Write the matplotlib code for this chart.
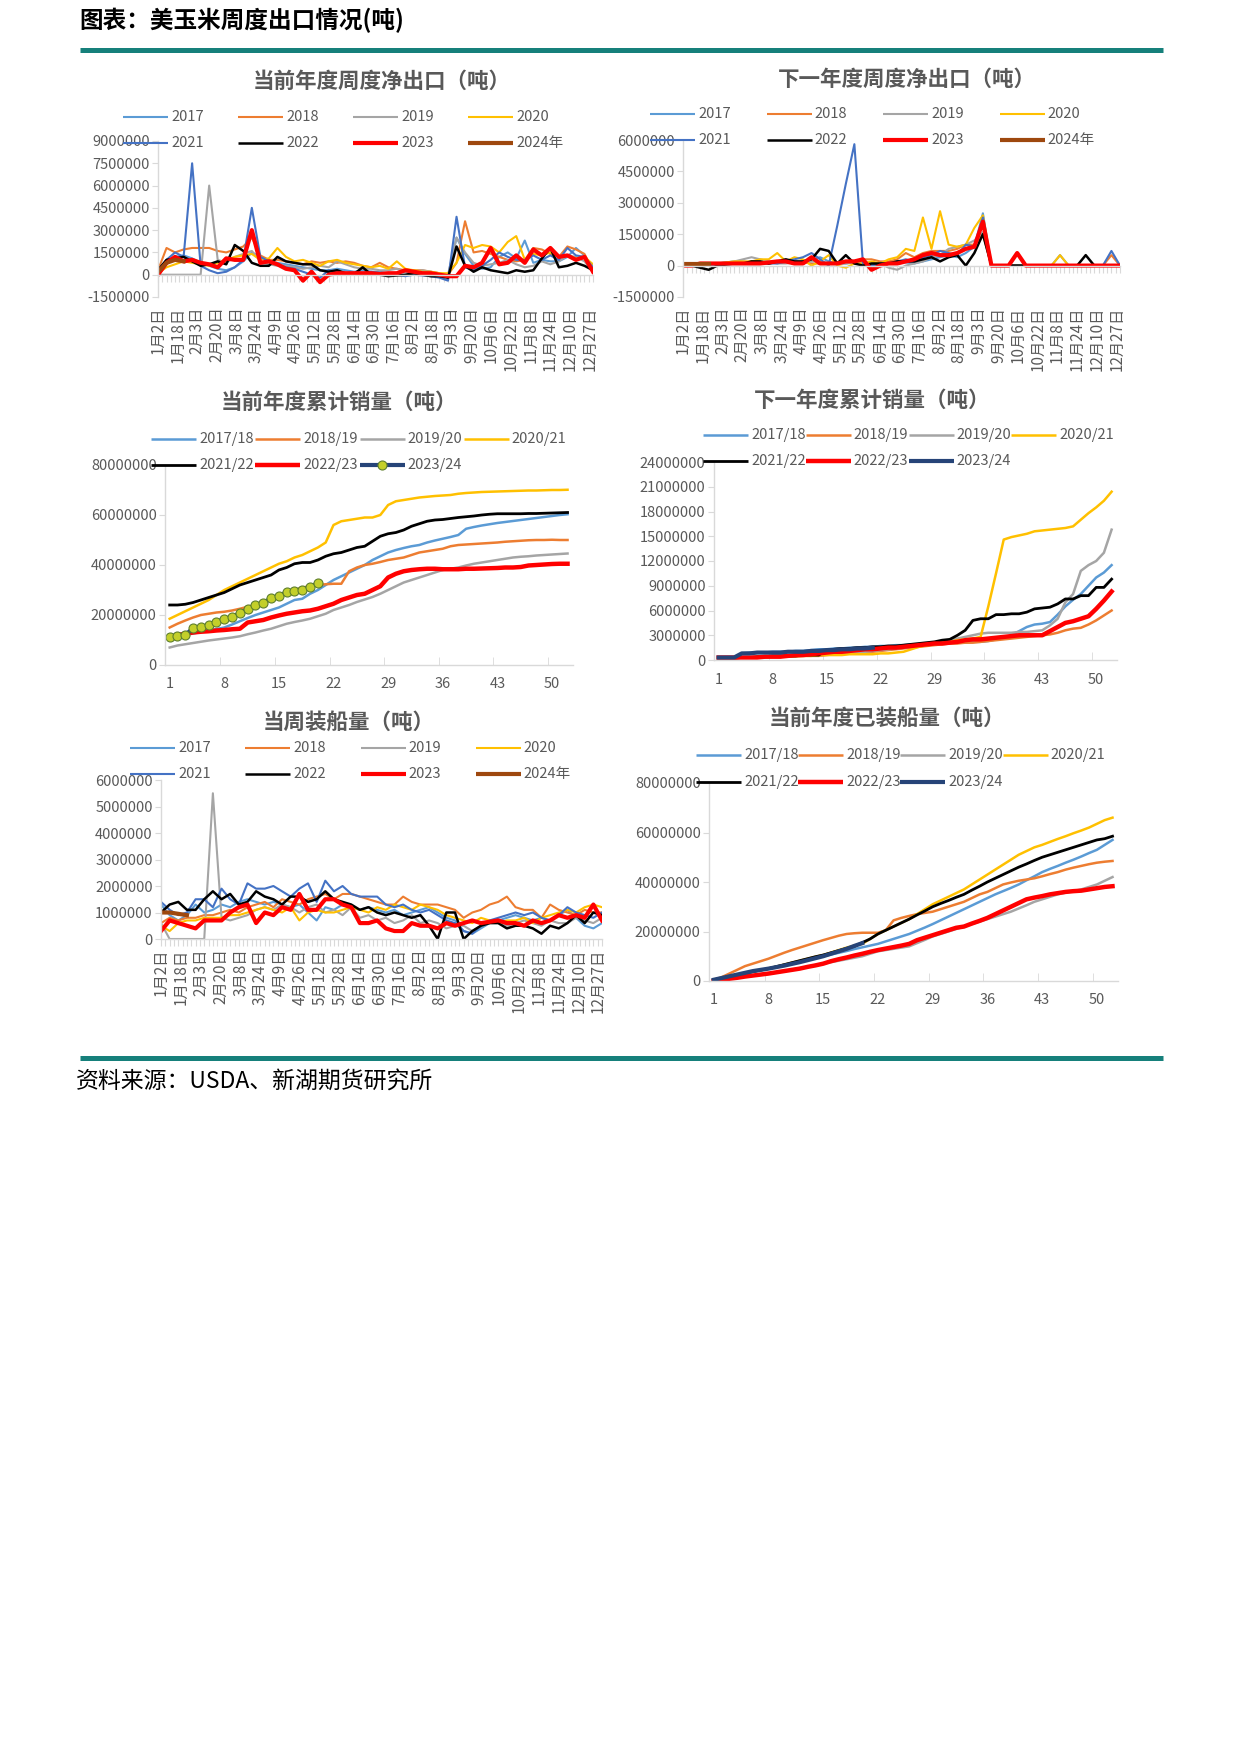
import numpy as np
import matplotlib
matplotlib.use("Agg")
import matplotlib.pyplot as plt
from matplotlib.lines import Line2D

plt.rcParams['font.family'] = ['Noto Sans CJK SC', 'DejaVu Sans']

W, H = 1240, 1754          # output size in pixels (dpi 100)
TEAL = '#16807B'
TXT = '#595959'
AXC = '#D9D9D9'

# ---------------------------------------------------------------- data
# weekly series in thousand tonnes, one value per week from 1月2日
YEARS = ['2017', '2018', '2019', '2020', '2021', '2022', '2023', '2024年']
SEASONS = ['2017/18', '2018/19', '2019/20', '2020/21', '2021/22', '2022/23', '2023/24']

DATE_LABELS = ['1月2日', '1月18日', '2月3日', '2月20日', '3月8日', '3月24日', '4月9日',
               '4月26日', '5月12日', '5月28日', '6月14日', '6月30日', '7月16日', '8月2日',
               '8月18日', '9月3日', '9月20日', '10月6日', '10月22日', '11月8日', '11月24日',
               '12月10日', '12月27日']
WEEK_LABELS = [1, 8, 15, 22, 29, 36, 43, 50]

# 当前年度周度净出口
NET_CUR = {
    '2017': [200, 900, 1200, 1300, 1100, 800, 600, 400, 300, 500, 900, 1500, 1200,
             900, 800, 700, 600, 500, 400, 300, 300, 400, 300, 200, 300, 200,
             200, 100, 100, 200, 100, 100, 50, 0, -200, 2500, 1400, 600, 400,
             500, 1200, 1500, 1100, 2300, 800, 1000, 900, 900, 1200, 1800, 1300, 300],
    '2018': [300, 1800, 1500, 1700, 1800, 1800, 1800, 1600, 1500, 1700, 1900, 2500, 1300,
             1000, 1000, 900, 800, 700, 900, 800, 900, 800, 900, 800, 600, 500,
             800, 500, 400, 300, 300, 300, 200, 100, 0, 800, 3600, 1500, 1600,
             1400, 1200, 1000, 900, 1000, 1800, 1700, 1400, 1200, 1900, 1700, 1400, 300],
    '2019': [0, 0, 0, 0, 0, 0, 6000, 1000, 800, 1200, 1400, 1600, 900,
             700, 600, 600, 500, 400, 500, 600, 500, 900, 700, 500, 400, 400,
             300, 300, 400, 200, 200, 300, 200, 100, 0, 2500, 1500, 800, 600,
             700, 800, 1000, 700, 500, 600, 900, 700, 900, 1300, 1200, 900, 200],
    '2020': [100, 500, 700, 900, 800, 700, 600, 800, 1000, 1200, 1300, 1400, 1000,
             1100, 1800, 1200, 900, 1000, 800, 600, 900, 1000, 800, 700, 600, 500,
             600, 400, 900, 400, 300, 200, 200, 100, 100, 800, 2000, 1800, 2000,
             1900, 1500, 2200, 2600, 1000, 1400, 1300, 1500, 1200, 1300, 1100, 1200, 700],
    '2021': [300, 1000, 1500, 1200, 7500, 600, 300, 100, 200, 500, 1000, 4500, 1200,
             900, 700, 500, 400, 200, 0, -200, 300, 200, 100, 0, 100, 200,
             100, 100, 0, -100, 0, -50, -100, -200, -400, 3900, 500, 300, 600,
             1000, 1500, 1200, 1000, 1000, 1300, 1000, 1300, 1000, 1800, 1300, 1200, 500],
    '2022': [300, 1000, 1100, 1200, 900, 600, 700, 900, 700, 2000, 1600, 800, 600,
             600, 1200, 900, 800, 700, 700, 300, 200, 300, 100, 50, 500, 0,
             0, -100, -50, 0, 100, 0, -100, -100, -200, 1900, 600, 200, 500,
             300, 200, 100, 300, 200, 300, 1100, 1800, 500, 600, 800, 600, 300],
    '2023': [0, 800, 1200, 900, 1000, 800, 700, 500, 1100, 1000, 1000, 3000, 800,
             900, 700, 400, 300, -400, 200, -500, 0, 100, 100, 100, 100, 100,
             50, 100, 100, 300, 200, 100, 100, 0, -100, -100, 600, 500, 800,
             1800, 700, 800, 1300, 800, 1700, 1300, 1800, 1200, 1300, 1000, 1200, 200],
    '2024年': [200, 800, 1000, 900],
}

# 下一年度周度净出口
NET_NEXT = {
    '2017': [0, 0, 0, 50, 100, 150, 200, 200, 150, 100, 150, 200, 200,
             150, 100, 300, 400, 200, 100, 100, 150, 100, 50, 50, 100, 200,
             150, 100, 200, 300, 400, 500, 400, 600, 900, 2500, 0, 0, 0,
             0, 0, 0, 0, 0, 500, 0, 0, 0, 0, 0, 0, 0],
    '2018': [100, 100, 50, 50, 100, 100, 100, 150, 200, 100, 100, 150, 200,
             200, 150, 100, 100, 100, 150, 200, 200, 300, 300, 200, 200, 300,
             600, 400, 600, 700, 700, 700, 800, 1000, 1000, 1500, 0, 0, 0,
             0, 0, 0, 0, 0, 0, 0, 0, 0, 0, 0, 500, 0, 0],
    '2019': [0, 0, 50, 100, 100, 150, 200, 300, 400, 300, 200, 100, 100,
             150, 100, 200, 200, 100, 100, 100, 150, 200, 100, 100, -100, -200,
             0, 100, 200, 400, 500, 800, 900, 1000, 1200, 1600, 0, 0, 0,
             0, 0, 0, 0, 0, 0, 0, 0, 0, 0, 0, 0, 0],
    '2020': [0, 0, 0, 100, 100, 150, 200, 200, 200, 300, 300, 600, 200,
             400, 300, 0, 200, 500, 0, -100, 100, 100, 200, 100, 300, 400,
             800, 700, 2300, 800, 2600, 1000, 900, 1000, 1800, 2400, 0, 0, 0,
             0, 0, 0, 0, 0, 500, 0, 0, 0, 0, 0, 0, 0],
    '2021': [0, 0, 0, 0, 50, 100, 100, 100, 150, 100, 100, 100, 200,
             300, 400, 600, 300, 0, 1900, 3900, 5800, 100, 0, 100, 100, 200,
             300, 200, 400, 500, 700, 600, 500, 1000, 900, 2300, 0, 0, 0,
             0, 0, 0, 0, 0, 0, 0, 0, 0, 0, 0, 700, 0],
    '2022': [0, 0, -100, -200, 0, 50, 100, 100, 200, 200, 100, 200, 300,
             200, 200, 300, 800, 700, 100, 500, 100, 0, 100, 100, 100, 200,
             200, 200, 300, 400, 200, 400, 500, 0, 600, 1500, 0, 0, 0,
             0, 0, 0, 0, 0, 0, 0, 0, 500, 0, 0, 0, 0],
    '2023': [0, 0, 100, 100, 100, 100, 100, 100, 100, 100, 150, 200, 200,
             100, 100, 400, 100, 100, 100, 200, 200, 300, -200, 0, 100, 100,
             200, 300, 500, 600, 500, 500, 600, 800, 900, 2100, 0, 0, 0,
             600, 0, 0, 0, 0, 0, 0, 0, 0, 0, 0, 0, 0],
    '2024年': [100, 100, 100, 100],
}

# 当周装船量
SHIPPED_WEEK = {
    '2017': [1300, 900, 700, 900, 1300, 1000, 1100, 1300, 1200, 1400, 1500, 1400, 1300,
             1400, 1300, 1200, 1300, 1000, 700, 1200, 1100, 1300, 1200, 1100, 1200, 1100,
             1000, 1100, 900, 1000, 1100, 1200, 1000, 800, 700, 300, 200, 400, 600,
             700, 800, 900, 800, 700, 800, 700, 900, 1100, 800, 500, 400, 600],
    '2018': [600, 800, 700, 800, 800, 900, 900, 1000, 1100, 1000, 1200, 1300, 1400,
             1200, 1500, 1400, 1300, 1500, 1600, 1700, 1500, 1700, 1700, 1600, 1500, 1400,
             1300, 1300, 1600, 1400, 1300, 1300, 1300, 1200, 1100, 800, 1000, 1100, 1300,
             1400, 1600, 1200, 1100, 1100, 800, 1300, 1100, 1000, 900, 1100, 1000, 1000],
    '2019': [600, 0, 0, 0, 0, 0, 5500, 800, 700, 800, 900, 1100, 1200,
             1100, 1300, 1200, 1000, 1200, 1300, 1000, 1100, 900, 1200, 800, 900, 700,
             800, 600, 700, 900, 600, 700, 600, 400, 500, 500, 300, 500, 600,
             700, 500, 600, 700, 600, 500, 700, 600, 600, 800, 700, 600, 800],
    '2020': [500, 300, 600, 700, 700, 800, 800, 800, 900, 900, 1000, 1100, 1200,
             1100, 1000, 1200, 700, 1000, 1100, 1000, 1000, 1100, 1200, 1100, 1000, 1200,
             1100, 1300, 1200, 1100, 1300, 1200, 1100, 900, 800, 700, 600, 800, 700,
             600, 700, 700, 800, 600, 800, 900, 1000, 1100, 1000, 1200, 1300, 1200],
    '2021': [1400, 1100, 900, 1000, 1500, 1500, 1200, 1900, 1500, 1300, 2100, 1900, 1900,
             2000, 1800, 1600, 1900, 2100, 1400, 2200, 1800, 2000, 1700, 1600, 1600, 1600,
             1300, 1200, 1300, 1100, 1000, 1100, 900, 700, 600, 300, 200, 500, 700,
             800, 900, 1000, 900, 1000, 800, 700, 900, 1200, 1000, 900, 800, 1000],
    '2022': [1000, 1300, 1400, 1100, 1100, 1500, 1800, 1500, 1700, 1300, 1400, 1800, 1600,
             1500, 1300, 1600, 1600, 1400, 1500, 1800, 1500, 1400, 1300, 1100, 1200, 1000,
             900, 1000, 900, 800, 900, 500, 0, 1000, 1000, 0, 300, 500, 600,
             600, 400, 500, 500, 400, 200, 500, 400, 600, 900, 600, 1000, 900],
    '2023': [300, 700, 600, 500, 400, 700, 700, 700, 1000, 1200, 1300, 600, 1000,
             900, 1200, 1100, 1700, 1100, 1100, 1500, 1500, 1300, 1200, 600, 600, 700,
             400, 300, 300, 600, 500, 500, 400, 600, 500, 600, 700, 600, 650,
             700, 600, 600, 500, 700, 600, 700, 900, 800, 900, 800, 1300, 700],
    '2024年': [1000, 1000, 950, 900],
}

# cumulative series in million tonnes, one value per marketing-year week
# 当前年度累计销量
SALES_CUR = {
    '2017/18': [11.0, 11.5, 12.0, 12.6, 13.2, 13.8, 14.4, 15.0, 16.2, 17.5, 18.8, 20.0, 21.0,
                22.0, 23.0, 24.5, 26.0, 26.5, 28.5, 30.0, 32.0, 34.0, 35.5, 37.0, 38.5, 40.0,
                42.0, 43.5, 45.0, 46.0, 46.8, 47.5, 48.0, 49.0, 49.8, 50.5, 51.2, 52.0, 54.5,
                55.2, 55.8, 56.3, 56.8, 57.2, 57.6, 58.0, 58.4, 58.8, 59.2, 59.6, 60.0, 60.3],
    '2018/19': [15.0, 16.5, 17.8, 19.0, 20.0, 20.5, 21.0, 21.3, 21.8, 22.5, 23.3, 24.0, 25.0,
                26.0, 27.0, 28.5, 30.0, 31.0, 31.5, 32.0, 32.3, 32.5, 32.5, 37.5, 39.0, 40.0,
                40.5, 41.2, 42.0, 42.5, 43.0, 44.0, 45.0, 45.5, 46.0, 46.5, 47.5, 48.0, 48.2,
                48.4, 48.6, 48.8, 49.0, 49.3, 49.5, 49.7, 49.9, 50.0, 50.0, 50.1, 50.0, 50.0],
    '2019/20': [7.0, 7.8, 8.3, 8.8, 9.3, 9.8, 10.2, 10.6, 11.0, 11.5, 12.3, 13.0, 13.8,
                14.5, 15.5, 16.5, 17.2, 17.8, 18.5, 19.5, 20.5, 22.0, 23.0, 24.0, 25.2, 26.2,
                27.2, 28.5, 30.0, 31.5, 33.0, 34.0, 35.0, 36.0, 37.0, 38.0, 38.5, 39.0, 39.8,
                40.5, 41.0, 41.5, 42.0, 42.5, 43.0, 43.3, 43.5, 43.8, 44.0, 44.2, 44.4, 44.6],
    '2020/21': [18.5, 20.0, 21.5, 23.0, 24.5, 26.0, 28.0, 30.0, 31.5, 33.0, 34.5, 36.0, 37.5,
                39.0, 40.5, 41.5, 43.0, 44.0, 45.5, 47.0, 49.0, 56.0, 57.5, 58.0, 58.5, 59.0,
                59.0, 60.0, 64.0, 65.5, 66.0, 66.5, 67.0, 67.3, 67.6, 67.8, 68.0, 68.5, 68.8,
                69.0, 69.2, 69.3, 69.4, 69.5, 69.6, 69.7, 69.8, 69.8, 69.9, 70.0, 70.0, 70.1],
    '2021/22': [24.0, 24.0, 24.3, 25.0, 26.0, 27.0, 28.0, 29.0, 30.5, 32.0, 33.0, 34.0, 35.0,
                36.0, 38.0, 39.0, 40.5, 41.0, 41.0, 42.0, 43.5, 44.5, 45.0, 46.0, 47.0, 47.5,
                49.5, 51.5, 52.5, 53.0, 54.0, 55.5, 56.5, 57.5, 58.0, 58.2, 58.6, 59.0, 59.3,
                59.6, 60.0, 60.3, 60.5, 60.5, 60.5, 60.5, 60.6, 60.6, 60.7, 60.8, 60.9, 61.0],
    '2022/23': [11.0, 12.0, 12.5, 13.0, 13.3, 13.5, 13.8, 14.0, 14.3, 14.5, 17.0, 17.5, 18.0,
                19.0, 19.8, 20.5, 21.0, 21.5, 21.8, 22.5, 23.5, 24.5, 26.0, 27.0, 28.0, 28.5,
                30.0, 31.5, 35.0, 36.5, 37.5, 38.0, 38.3, 38.5, 38.5, 38.3, 38.3, 38.3, 38.5,
                38.5, 38.6, 38.7, 38.8, 39.0, 39.0, 39.2, 39.8, 40.0, 40.2, 40.4, 40.5, 40.5],
    '2023/24': [11.3, 11.6, 12.0, 14.7, 15.1, 16.0, 17.3, 18.3, 19.3, 20.7, 22.3, 24.0, 24.9,
                26.7, 27.6, 29.1, 29.6, 30.0, 31.3, 32.7],
}

# 下一年度累计销量
SALES_NEXT = {
    '2017/18': [0.3, 0.3, 0.3, 0.8, 0.9, 0.9, 0.9, 1.0, 1.0, 1.0, 1.1, 1.1, 1.2,
                1.3, 1.3, 1.4, 1.4, 1.5, 1.5, 1.6, 1.6, 1.7, 1.7, 1.8, 1.8, 1.9,
                1.9, 2.0, 2.0, 2.0, 2.1, 2.1, 2.1, 2.2, 2.2, 2.3, 2.5, 2.7, 3.0,
                3.5, 4.0, 4.3, 4.4, 4.6, 5.5, 6.5, 7.3, 8.0, 9.0, 10.0, 10.6, 11.5],
    '2018/19': [0.2, 0.2, 0.2, 0.3, 0.3, 0.3, 0.3, 0.4, 0.4, 0.4, 0.4, 0.5, 0.5,
                0.5, 0.6, 0.7, 0.8, 0.9, 0.9, 1.0, 1.0, 1.1, 1.2, 1.3, 1.4, 1.5,
                1.6, 1.7, 1.8, 1.9, 2.0, 2.0, 2.1, 2.1, 2.2, 2.3, 2.4, 2.5, 2.6,
                2.7, 2.8, 2.9, 3.0, 3.1, 3.3, 3.6, 3.8, 3.9, 4.3, 4.8, 5.4, 6.0],
    '2019/20': [0.2, 0.2, 0.2, 0.3, 0.3, 0.3, 0.4, 0.4, 0.4, 0.5, 0.5, 0.6, 0.6,
                0.7, 0.7, 0.8, 0.8, 0.9, 0.9, 1.0, 1.1, 1.2, 1.3, 1.4, 1.5, 1.6,
                1.7, 1.9, 2.0, 2.2, 2.4, 2.6, 2.8, 3.0, 3.2, 3.3, 3.3, 3.3, 3.3,
                3.4, 3.4, 3.5, 3.6, 4.2, 5.0, 7.0, 8.0, 10.8, 11.5, 12.0, 13.0, 15.8],
    '2020/21': [0.2, 0.2, 0.2, 0.3, 0.3, 0.3, 0.4, 0.4, 0.4, 0.5, 0.5, 0.5, 0.5,
                0.6, 0.6, 0.6, 0.6, 0.7, 0.7, 0.7, 0.7, 0.8, 0.8, 0.9, 1.0, 1.3,
                1.6, 1.8, 2.0, 2.1, 2.2, 2.4, 2.5, 2.6, 2.8, 6.5, 10.5, 14.6, 14.9,
                15.1, 15.3, 15.6, 15.7, 15.8, 15.9, 16.0, 16.2, 17.0, 17.8, 18.5, 19.3, 20.4],
    '2021/22': [0.2, 0.2, 0.2, 0.3, 0.3, 0.4, 0.4, 0.5, 0.5, 0.5, 0.5, 0.6, 0.6,
                0.6, 1.2, 1.3, 1.4, 1.4, 1.5, 1.5, 1.6, 1.6, 1.7, 1.7, 1.8, 1.9,
                2.0, 2.1, 2.2, 2.4, 2.5, 3.0, 3.6, 4.8, 5.0, 5.0, 5.5, 5.5, 5.6,
                5.6, 5.8, 6.2, 6.3, 6.4, 6.8, 7.4, 7.4, 7.8, 7.8, 8.8, 8.8, 9.8],
    '2022/23': [0.3, 0.3, 0.3, 0.3, 0.3, 0.3, 0.4, 0.4, 0.4, 0.5, 0.6, 0.6, 0.7,
                0.8, 0.9, 1.0, 1.0, 1.1, 1.2, 1.3, 1.3, 1.4, 1.5, 1.5, 1.6, 1.7,
                1.8, 1.9, 2.0, 2.0, 2.1, 2.2, 2.4, 2.5, 2.5, 2.6, 2.7, 2.8, 2.9,
                3.0, 3.0, 3.0, 3.0, 3.5, 4.0, 4.5, 4.7, 5.0, 5.3, 6.2, 7.2, 8.3],
    '2023/24': [0.3, 0.3, 0.3, 0.8, 0.8, 0.9, 0.9, 0.9, 0.9, 1.0, 1.0, 1.0, 1.1,
                1.1, 1.2, 1.2, 1.3, 1.3, 1.4, 1.4, 1.5],
}

# 当前年度已装船量
SHIPPED_CUM = {
    '2017/18': [0.5, 1.1, 1.8, 2.5, 3.1, 3.8, 4.4, 5.0, 5.7, 6.4, 7.1, 7.9, 8.6,
                9.3, 10.0, 10.7, 11.4, 12.1, 12.9, 13.6, 14.3, 15.0, 16.0, 17.0, 18.0, 19.0,
                20.3, 21.6, 23.0, 24.5, 26.0, 27.5, 29.0, 30.5, 32.0, 33.5, 35.0, 36.3, 37.6,
                39.0, 40.7, 42.3, 44.0, 45.3, 46.5, 47.8, 49.0, 50.3, 51.7, 53.0, 55.0, 57.0],
    '2018/19': [0.5, 1.5, 3.0, 4.5, 6.0, 7.0, 8.0, 9.0, 10.2, 11.4, 12.5, 13.5, 14.5,
                15.5, 16.5, 17.4, 18.3, 19.0, 19.3, 19.5, 19.5, 19.5, 20.5, 24.5, 25.5, 26.3,
                27.0, 27.5, 28.0, 29.0, 30.0, 31.0, 32.0, 33.5, 35.0, 36.0, 37.5, 39.0, 39.8,
                40.5, 41.0, 41.5, 42.3, 43.2, 44.0, 45.0, 45.8, 46.5, 47.2, 47.8, 48.2, 48.5],
    '2019/20': [0.0, 0.5, 0.9, 1.3, 1.8, 2.2, 2.6, 3.0, 3.5, 4.1, 4.6, 5.2, 5.7,
                6.3, 7.0, 7.6, 8.2, 8.8, 9.4, 10.0, 11.0, 12.0, 12.5, 13.0, 13.5, 14.0,
                15.3, 16.6, 18.0, 19.0, 20.0, 21.0, 22.0, 23.0, 24.0, 25.0, 26.0, 27.0, 28.0,
                29.3, 30.6, 32.0, 33.0, 34.0, 35.0, 35.7, 36.3, 37.0, 38.0, 39.0, 40.5, 42.0],
    '2020/21': [0.5, 1.1, 1.8, 2.5, 3.1, 3.8, 4.4, 5.0, 5.8, 6.6, 7.4, 8.2, 9.0,
                9.8, 10.5, 11.5, 12.5, 13.5, 14.3, 15.0, 17.0, 19.0, 20.5, 22.0, 23.5, 25.0,
                27.0, 29.0, 31.0, 32.5, 34.0, 35.5, 37.0, 39.0, 41.0, 43.0, 45.0, 47.0, 49.0,
                51.0, 52.5, 54.0, 55.0, 56.2, 57.4, 58.5, 59.7, 60.8, 62.0, 63.5, 65.0, 66.0],
    '2021/22': [0.5, 1.1, 1.8, 2.5, 3.1, 3.8, 4.4, 5.0, 5.8, 6.6, 7.4, 8.2, 9.0,
                9.8, 10.5, 11.4, 12.3, 13.2, 14.0, 15.5, 17.0, 19.0, 20.5, 22.0, 23.5, 25.0,
                26.7, 28.3, 30.0, 31.3, 32.5, 33.8, 35.0, 36.7, 38.3, 40.0, 41.5, 43.0, 44.5,
                46.0, 47.3, 48.7, 50.0, 51.0, 52.0, 53.0, 54.0, 55.0, 56.0, 57.0, 57.5, 58.5],
    '2022/23': [0.0, 0.5, 0.9, 1.3, 1.8, 2.2, 2.6, 3.0, 3.5, 4.0, 4.5, 5.0, 5.7,
                6.3, 7.0, 8.0, 8.8, 9.5, 10.3, 11.0, 11.8, 12.5, 13.1, 13.7, 14.3, 15.0,
                16.5, 17.5, 18.5, 19.5, 20.5, 21.5, 22.0, 23.2, 24.3, 25.5, 27.0, 28.5, 30.0,
                31.5, 33.0, 33.7, 34.3, 35.0, 35.5, 36.0, 36.3, 36.5, 37.0, 37.5, 38.0, 38.3],
    '2023/24': [0.5, 1.2, 1.9, 2.6, 3.3, 4.0, 4.5, 5.0, 5.6, 6.2, 6.9, 7.6, 8.4,
                9.2, 10.0, 11.0, 12.0, 13.0, 14.2, 15.3],
}

# ---------------------------------------------------------------- styles
YEAR_STYLE = {
    '2017':  dict(color='#5B9BD5', lw=1.5),
    '2018':  dict(color='#ED7D31', lw=1.5),
    '2019':  dict(color='#A5A5A5', lw=1.5),
    '2020':  dict(color='#FFC000', lw=1.5),
    '2021':  dict(color='#4472C4', lw=1.5),
    '2022':  dict(color='#000000', lw=1.8),
    '2023':  dict(color='#FF0000', lw=3.0),
    '2024年': dict(color='#9E480E', lw=3.0),
}
SEASON_STYLE = {
    '2017/18': dict(color='#5B9BD5', lw=1.8),
    '2018/19': dict(color='#ED7D31', lw=1.8),
    '2019/20': dict(color='#A5A5A5', lw=1.8),
    '2020/21': dict(color='#FFC000', lw=1.8),
    '2021/22': dict(color='#000000', lw=2.0),
    '2022/23': dict(color='#FF0000', lw=3.2),
    '2023/24': dict(color='#264478', lw=3.0),
}
MARKED = dict(marker='o', ms=6.5, mfc='#C3CF2A', mec='#5E7F2C', mew=0.8)

fig = plt.figure(figsize=(W / 100, H / 100), dpi=100)


def fx(x):
    return x / W


def fy(y):
    return 1 - y / H


def new_axes(left, top, right, bottom):
    ax = fig.add_axes([fx(left), fy(bottom), (right - left) / W, (bottom - top) / H])
    for s in ('top', 'right'):
        ax.spines[s].set_visible(False)
    for s in ('left', 'bottom'):
        ax.spines[s].set_color(AXC)
        ax.spines[s].set_linewidth(1.0)
    ax.tick_params(axis='y', length=4, color=AXC, labelcolor=TXT, labelsize=10.5, pad=2)
    return ax


def set_yaxis(ax, lo, hi, step):
    ticks = np.arange(lo, hi + step / 2, step)
    ax.set_ylim(lo, hi)
    ax.set_yticks(ticks, [f'{int(t)}' for t in ticks])


def title(cx, cy, text):
    fig.text(fx(cx), fy(cy), text, ha='center', va='center', fontsize=15.5,
             fontweight='bold', color=TXT)


def legend(names, styles, x0, dx, rows, marked=None, length=45):
    for i, name in enumerate(names):
        r, c = divmod(i, 4)
        x, y = x0 + c * dx, rows[r]
        fig.add_artist(Line2D([fx(x), fx(x + length)], [fy(y), fy(y)],
                              transform=fig.transFigure, solid_capstyle='butt', **styles[name]))
        if name == marked:
            fig.add_artist(Line2D([fx(x + length / 2)], [fy(y)], transform=fig.transFigure,
                                  ls='none', **MARKED))
        fig.text(fx(x + length + 3), fy(y), name, ha='left', va='center', fontsize=10.5, color=TXT)


def weekly_panel(box, data, ylim):
    ax = new_axes(*box)
    for name in YEARS:
        vals = np.array(data[name]) * 1e3
        ax.plot(np.arange(len(vals)) * 7, vals, **YEAR_STYLE[name])
    set_yaxis(ax, *ylim)
    ax.set_xlim(0, 357)
    ax.spines['bottom'].set_position(('data', 0))
    ax.set_xticks(np.arange(0, 358, 3.5))
    ax.tick_params(axis='x', length=5, color=AXC, labelbottom=False)
    sec = ax.secondary_xaxis('bottom')
    sec.set_xticks(np.arange(len(DATE_LABELS)) * 16.1, DATE_LABELS)
    sec.tick_params(length=0, pad=7, labelsize=11, labelrotation=90, labelcolor=TXT)
    sec.spines['bottom'].set_visible(False)
    return ax


def cumulative_panel(box, data, ylim, marked=None):
    ax = new_axes(*box)
    for name in SEASONS:
        vals = np.array(data[name]) * 1e6
        extra = MARKED if name == marked else {}
        ax.plot(np.arange(1, len(vals) + 1), vals, **SEASON_STYLE[name], **extra)
    set_yaxis(ax, *ylim)
    ax.set_xlim(0.4, 52.7)
    ax.set_xticks(WEEK_LABELS, [str(w) for w in WEEK_LABELS])
    ax.set_xticks(np.arange(7.5, 53, 7), minor=True)
    ax.tick_params(axis='x', which='major', length=0, pad=9, labelsize=10.5, labelcolor=TXT)
    ax.tick_params(axis='x', which='minor', direction='in', length=6, color=AXC)
    return ax


# ---------------------------------------------------------------- page furniture
fig.text(fx(79), fy(20), '图表：美玉米周度出口情况(吨)', ha='left', va='center',
         fontsize=17, fontweight='bold', color='black')
for y in (50, 1058):
    fig.add_artist(Line2D([fx(80), fx(1163)], [fy(y), fy(y)], transform=fig.transFigure,
                          color=TEAL, lw=3.6, solid_capstyle='butt'))
fig.text(fx(76), fy(1082), '资料来源：USDA、新湖期货研究所', ha='left', va='center',
         fontsize=16.5, color='black')

# ---------------------------------------------------------------- panels
weekly_panel((158, 141, 593, 297), NET_CUR, (-1500000, 9000000, 1500000))
title(382, 81, '当前年度周度净出口（吨）')
legend(YEARS, YEAR_STYLE, 123, 115, (117, 143))

weekly_panel((683, 140, 1120, 297), NET_NEXT, (-1500000, 6000000, 1500000))
title(907, 79, '下一年度周度净出口（吨）')
legend(YEARS, YEAR_STYLE, 650, 116.5, (114, 140))

cumulative_panel((165, 465, 573, 665), SALES_CUR, (0, 80000000, 20000000), marked='2023/24')
title(339, 402, '当前年度累计销量（吨）')
legend(SEASONS, SEASON_STYLE, 151, 104.3, (439, 465), marked='2023/24')

cumulative_panel((714, 462, 1117, 660), SALES_NEXT, (0, 24000000, 3000000))
title(872, 400, '下一年度累计销量（吨）')
legend(SEASONS, SEASON_STYLE, 703, 102.8, (435, 461))

weekly_panel((161, 780, 602, 939), SHIPPED_WEEK, (0, 6000000, 1000000))
title(349, 722, '当周装船量（吨）')
legend(YEARS, YEAR_STYLE, 130, 115.3, (748, 774))

cumulative_panel((709, 783, 1118, 981), SHIPPED_CUM, (0, 80000000, 20000000))
title(887, 718, '当前年度已装船量（吨）')
legend(SEASONS, SEASON_STYLE, 696, 102.2, (755, 782))

fig.savefig('out.png', dpi=100)
